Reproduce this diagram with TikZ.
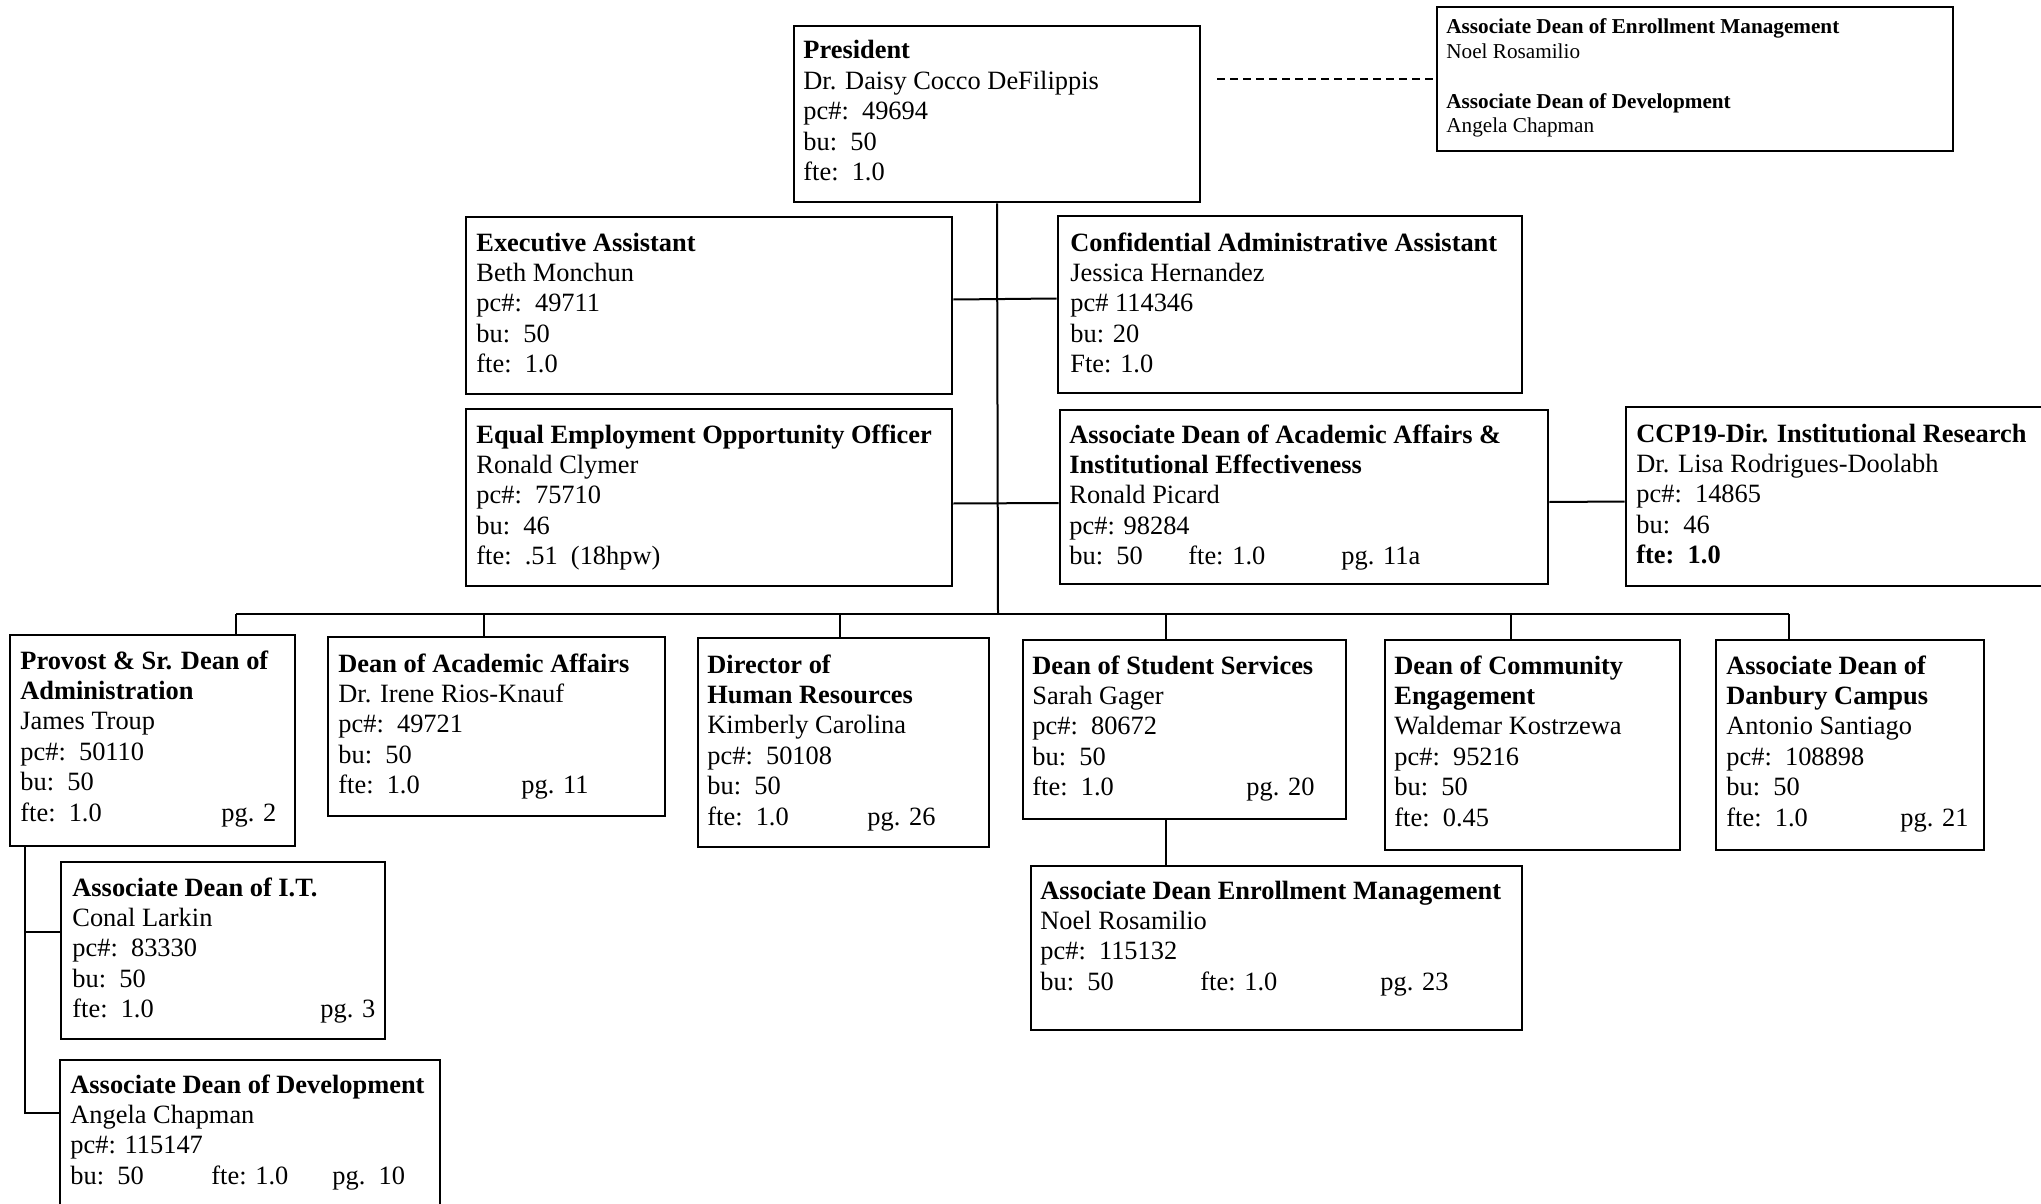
\documentclass[tikz,border=0pt]{standalone}
\usepackage{fontspec}
\setmainfont{Liberation Serif}
\usetikzlibrary{fit}
\newcommand\tb[2]{\makebox[#1][l]{#2}}
\newcommand\lns[1]{\begin{tabular}[t]{@{}l@{}}#1\end{tabular}}
\begin{document}
\begin{tikzpicture}[x=0.5pt,y=-0.5pt,
 box/.style={draw, line width=1.3pt, inner sep=0pt, rectangle},
 txt/.style={anchor=base west, inner sep=0pt, font=\fontsize{13.2}{15.2}\selectfont},
 stxt/.style={anchor=base west, inner sep=0pt, font=\fontsize{10.6}{12.35}\selectfont},
 link/.style={line width=1pt},
 dsh/.style={line width=1pt, dash pattern=on 4pt off 2.5pt}]
\useasboundingbox (0,0) rectangle (2041,1204);
\clip (0,0) rectangle (2041,1204);
\fill[white] (0,0) rectangle (2041,1204);

% boxes
\node[box, fit={(794,26) (1200,202)}] (pres) {};
\node[box, fit={(1437,7) (1953,151)}] (tr) {};
\node[box, fit={(466,217) (952,394)}] (ea) {};
\node[box, fit={(1058,216) (1522,393)}] (caa) {};
\node[box, fit={(466,409) (952,586)}] (eeo) {};
\node[box, fit={(1060,410) (1548,584)}] (adaa) {};
\node[box, fit={(1626,407) (2070,586)}] (ccp) {};
\node[box, fit={(10,635) (295,846)}] (prov) {};
\node[box, fit={(328,637) (665,816)}] (daa) {};
\node[box, fit={(698,638) (989,847)}] (hr) {};
\node[box, fit={(1023,640) (1346,819)}] (ss) {};
\node[box, fit={(1385,640) (1680,850)}] (ce) {};
\node[box, fit={(1716,640) (1984,850)}] (dan) {};
\node[box, fit={(61,862) (385,1039)}] (it) {};
\node[box, fit={(60,1060) (440,1240)}] (dev) {};
\node[box, fit={(1031,866) (1522,1030)}] (enr) {};

% texts
\node[txt] (pres-t) at (803,59) {\lns{\textbf{President}\\Dr. Daisy Cocco DeFilippis\\pc\#:\ \ 49694\\bu:\ \ 50\\fte:\ \ 1.0}};
\node[stxt] (tr-t) at (1446,34) {\lns{\textbf{Associate Dean of Enrollment Management}\\Noel Rosamilio\\ \\\textbf{Associate Dean of Development}\\Angela Chapman}};
\node[txt] (ea-t) at (476,251) {\lns{\textbf{Executive Assistant}\\Beth Monchun\\pc\#:\ \ 49711\\bu:\ \ 50\\fte:\ \ 1.0}};
\node[txt] (caa-t) at (1070,251) {\lns{\textbf{Confidential Administrative Assistant}\\Jessica Hernandez\\pc\# 114346\\bu: 20\\Fte: 1.0}};
\node[txt] (eeo-t) at (476,443) {\lns{\textbf{Equal Employment Opportunity Officer}\\Ronald Clymer\\pc\#:\ \ 75710\\bu:\ \ 46\\fte:\ \ .51\ \ (18hpw)}};
\node[txt] (adaa-t) at (1069,443) {\lns{\textbf{Associate Dean of Academic Affairs \&}\\\textbf{Institutional Effectiveness}\\Ronald Picard\\pc\#: 98284\\\tb{59.5pt}{bu:\ \ 50}\tb{76.5pt}{fte: 1.0}pg. 11a}};
\node[txt] (ccp-t) at (1636,442) {\lns{\textbf{CCP19-Dir. Institutional Research}\\Dr. Lisa Rodrigues-Doolabh\\pc\#:\ \ 14865\\bu:\ \ 46\\\textbf{fte:\ \ 1.0}}};
\node[txt] (prov-t) at (20,669) {\lns{\textbf{Provost \& Sr. Dean of}\\\textbf{Administration}\\James Troup\\pc\#:\ \ 50110\\bu:\ \ 50\\\tb{100.5pt}{fte:\ \ 1.0}pg. 2}};
\node[txt] (daa-t) at (338,672) {\lns{\textbf{Dean of Academic Affairs}\\Dr. Irene Rios-Knauf\\pc\#:\ \ 49721\\bu:\ \ 50\\\tb{91.5pt}{fte:\ \ 1.0}pg. 11}};
\node[txt] (hr-t) at (707,673) {\lns{\textbf{Director of}\\\textbf{Human Resources}\\Kimberly Carolina\\pc\#:\ \ 50108\\bu:\ \ 50\\\tb{80pt}{fte:\ \ 1.0}pg. 26}};
\node[txt] (ss-t) at (1032,674) {\lns{\textbf{Dean of Student Services}\\Sarah Gager\\pc\#:\ \ 80672\\bu:\ \ 50\\\tb{107pt}{fte:\ \ 1.0}pg. 20}};
\node[txt] (ce-t) at (1394,674) {\lns{\textbf{Dean of Community}\\\textbf{Engagement}\\Waldemar Kostrzewa\\pc\#:\ \ 95216\\bu:\ \ 50\\fte:\ \ 0.45}};
\node[txt] (dan-t) at (1726,674) {\lns{\textbf{Associate Dean of}\\\textbf{Danbury Campus}\\Antonio Santiago\\pc\#:\ \ 108898\\bu:\ \ 50\\\tb{87pt}{fte:\ \ 1.0}pg. 21}};
\node[txt] (it-t) at (72,896) {\lns{\textbf{Associate Dean of I.T.}\\Conal Larkin\\pc\#:\ \ 83330\\bu:\ \ 50\\\tb{124pt}{fte:\ \ 1.0}pg. 3}};
\node[txt] (dev-t) at (70,1093) {\lns{\textbf{Associate Dean of Development}\\Angela Chapman\\pc\#: 115147\\\tb{70.5pt}{bu:\ \ 50}\tb{60.5pt}{fte: 1.0}pg.\ \ 10}};
\node[txt] (enr-t) at (1040,899) {\lns{\textbf{Associate Dean Enrollment Management}\\Noel Rosamilio\\pc\#:\ \ 115132\\\tb{80pt}{bu:\ \ 50}\tb{90pt}{fte: 1.0}pg. 23}};

% connectors
\coordinate (bus) at (998,614);
\coordinate (bL) at (236,614);
\coordinate (bR) at (1789,614);
\coordinate (d2) at (484,614);
\coordinate (d3) at (840,614);
\coordinate (d4) at (1166,614);
\coordinate (d5) at (1511,614);
\draw[link] (pres.south) -- (bus);
\draw[link] (bL) -- (bR);
\draw[link] (bL) -- (bL |- prov.north);
\draw[link] (d2) -- (d2 |- daa.north);
\draw[link] (d3) -- (d3 |- hr.north);
\draw[link] (d4) -- (d4 |- ss.north);
\draw[link] (d5) -- (d5 |- ce.north);
\draw[link] (bR) -- (bR |- dan.north);
\draw[link] ([yshift=3pt]ea.east) -- ([yshift=3pt]caa.west);
\draw[link] ([yshift=-3pt]eeo.east) -- ([yshift=-3pt]adaa.west);
\draw[link] ([yshift=-2.5pt]adaa.east) -- ([yshift=-2.5pt]ccp.west);
\coordinate (pv) at (25,846);
\coordinate (pvIT) at (25,932);
\coordinate (pvDev) at (25,1113);
\draw[link] (pv) -- (pvDev) -- (pvDev -| dev.west);
\draw[link] (pvIT) -- (pvIT -| it.west);
\coordinate (se) at (1166,819);
\draw[link] (se) -- (se |- enr.north);
\coordinate (dl) at (1217,79);
\draw[dsh] (dl) -- (tr.west);
\end{tikzpicture}
\end{document}
